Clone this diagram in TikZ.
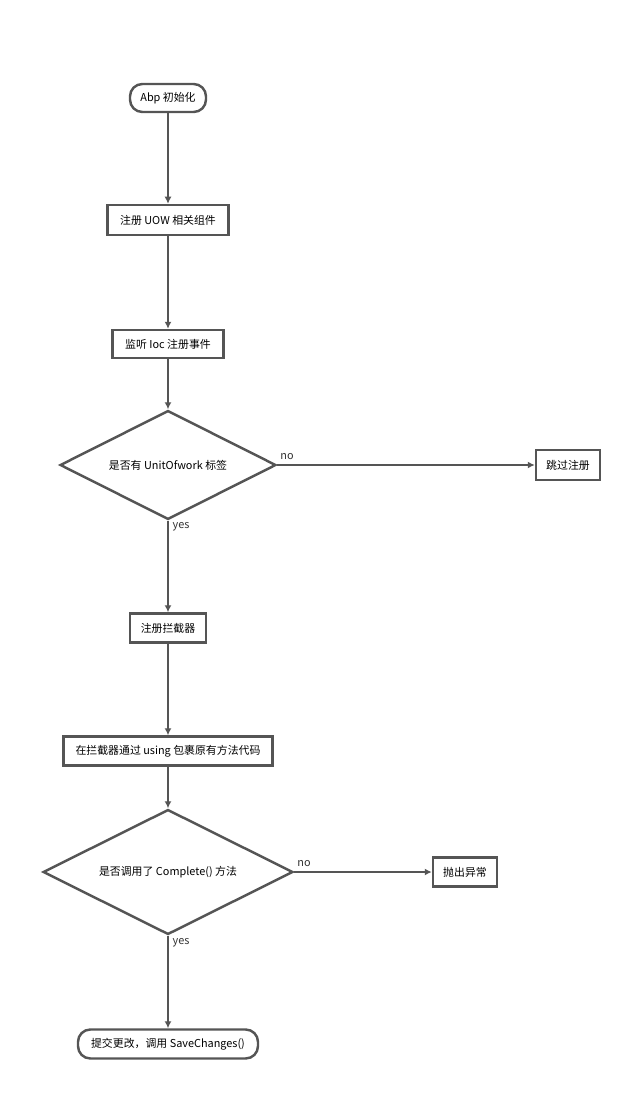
\documentclass[tikz,border=0pt]{standalone}
\usepackage{fontspec}
\setmainfont{Noto Sans CJK SC}
\usetikzlibrary{shapes.geometric,arrows.meta}
\definecolor{linegray}{HTML}{555555}
\begin{document}
\begin{tikzpicture}[x=0.02cm,y=-0.02cm,font=\fontsize{6.2}{8}\selectfont,
    line width=1.4pt, draw=linegray]
    \tikzset{
        stepbox/.style={rectangle, draw=linegray, fill=white, inner sep=0pt},
        endbox/.style={rectangle, rounded corners=7pt, draw=linegray, fill=white, inner sep=0pt},
        decide/.style={diamond, draw=linegray, fill=white, inner sep=0pt, aspect=2},
        flow/.style={draw=linegray, -{Latex[length=4pt,width=4pt]}},
        tag/.style={font=\fontsize{6.2}{8}\selectfont, text=black!80, inner sep=1pt}
    }
    \useasboundingbox (0,0) rectangle (640,1116);
    \node[endbox, minimum width=1.52cm, minimum height=0.56cm] (start) at (168,98) {Abp 初始化};
    \node[stepbox, minimum width=2.42cm, minimum height=0.6cm] (reg) at (168,220) {注册 UOW 相关组件};
    \node[stepbox, minimum width=2.22cm, minimum height=0.56cm] (listen) at (168,344) {监听 Ioc 注册事件};
    \node[decide, minimum width=4.32cm, minimum height=2.18cm] (q1) at (168,465) {是否有 UnitOfwork 标签};
    \node[stepbox, minimum width=1.28cm, minimum height=0.6cm] (skip) at (568,465) {跳过注册};
    \node[stepbox, minimum width=1.52cm, minimum height=0.58cm] (inter) at (168,628) {注册拦截器};
    \node[stepbox, minimum width=4.18cm, minimum height=0.58cm] (wrap) at (168,751) {在拦截器通过 using 包裹原有方法代码};
    \node[decide, minimum width=5cm, minimum height=2.5cm] (q2) at (168,872) {是否调用了 Complete() 方法};
    \node[stepbox, minimum width=1.28cm, minimum height=0.58cm] (throw) at (465,872) {抛出异常};
    \node[endbox, minimum width=3.6cm, minimum height=0.58cm] (done) at (168,1044) {提交更改，调用 SaveChanges()};
    \foreach \a/\b in {start/reg, reg/listen, listen/q1, q1/inter, inter/wrap, wrap/q2, q2/done, q1/skip, q2/throw} {
        \path[flow] (\a) -- (\b);
    }
    \node[tag] (no1) at (287,457) {no};
    \node[tag] (yes1) at (181,527) {yes};
    \node[tag] (no2) at (304,864) {no};
    \node[tag] (yes2) at (181,943) {yes};
\end{tikzpicture}
\end{document}
